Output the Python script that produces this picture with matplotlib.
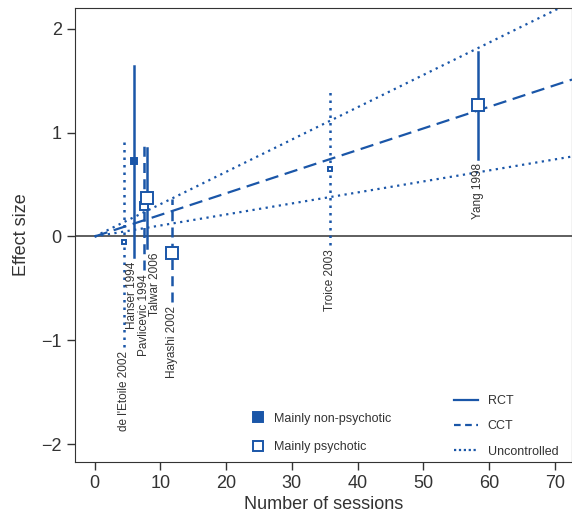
import matplotlib.pyplot as plt
from matplotlib.lines import Line2D

blue = '#1a56a8'
grey = '#333333'
plt.rcParams['font.family'] = ['Liberation Sans Narrow', 'Liberation Sans', 'DejaVu Sans']

# Study data
studies = ['de l\'Etoile 2002', 'Hanser 1994', 'Pavlicevic 1994', 'Talwar 2006',
           'Hayashi 2002', 'Troice 2003', 'Yang 1998']
sessions = [4.5, 6.0, 7.5, 8.0, 11.8, 35.8, 58.3]
effect = [-0.05, 0.73, 0.29, 0.37, -0.16, 0.65, 1.27]
ci_low = [-1.06, -0.20, -0.32, -0.11, -0.63, -0.08, 0.75]
ci_high = [0.96, 1.64, 0.93, 0.85, 0.36, 1.39, 1.78]
design = ['Uncontrolled', 'RCT', 'CCT', 'RCT', 'CCT', 'Uncontrolled', 'RCT']
filled = [False, True, False, False, False, False, False]
marker_size = [3.5, 5, 5.5, 8.5, 9, 3.5, 8.5]
label_dx = [0, -0.3, 0, 1.25, 0, 0, 0]

# Meta-regression lines through the origin (slope per session)
reg_x = [0, 72.6]
slope_cct = 0.0208
slope_upper = 0.0311
slope_lower = 0.0106

styles = {'RCT': '-', 'CCT': (0, (4, 2.5)), 'Uncontrolled': (0, (1, 2))}

fig = plt.figure(figsize=(5.72, 5.25), dpi=100)
ax = fig.add_axes([0.131, 0.12, 0.869, 0.865])

ax.axhline(0, color=grey, lw=1.1, zorder=1)

ax.plot(reg_x, [slope_cct * x for x in reg_x], color=blue, lw=1.6, linestyle=(0, (6, 3)))
ax.plot(reg_x, [slope_upper * x for x in reg_x], color=blue, lw=1.6, linestyle=(0, (1, 2)))
ax.plot(reg_x, [slope_lower * x for x in reg_x], color=blue, lw=1.6, linestyle=(0, (1, 2)))

for i, name in enumerate(studies):
    x = sessions[i]
    ax.plot([x, x], [ci_low[i], ci_high[i]], color=blue, lw=1.8,
            linestyle=styles[design[i]], zorder=3)
    ax.plot(x, effect[i], marker='s', ms=marker_size[i], mew=1.4,
            mec=blue, mfc=blue if filled[i] else 'white', zorder=4)
    ax.text(x + label_dx[i], ci_low[i] - 0.04, name, rotation=90, ha='center',
            va='top', fontsize=8.5, color=grey)

ax.set_xlim(-3, 72.6)
ax.set_ylim(-2.17, 2.2)
ax.set_xticks(range(0, 80, 10))
ax.set_yticks([-2, -1, 0, 1, 2])
ax.set_yticklabels(['\u22122', '\u22121', '0', '1', '2'])
ax.tick_params(labelsize=13, colors=grey, length=6, width=1)
ax.set_xlabel('Number of sessions', fontsize=13, color=grey, labelpad=3)
ax.set_ylabel('Effect size', fontsize=13, color=grey, labelpad=8)
for s in ax.spines.values():
    s.set_color(grey)

h1 = [Line2D([], [], ls='none', marker='s', ms=7, mfc=blue, mec=blue, mew=1.4),
      Line2D([], [], ls='none', marker='s', ms=7, mfc='white', mec=blue, mew=1.4)]
leg1 = ax.legend(h1, ['Mainly non-psychotic', 'Mainly psychotic'], loc='lower left',
                 bbox_to_anchor=(0.32, -0.005), frameon=False, fontsize=9,
                 labelspacing=1.3, handletextpad=0.3, labelcolor=grey)
ax.add_artist(leg1)
h2 = [Line2D([], [], color=blue, lw=1.6, ls='-'),
      Line2D([], [], color=blue, lw=1.6, ls=(0, (3, 2))),
      Line2D([], [], color=blue, lw=1.6, ls=(0, (1, 1.2)))]
ax.legend(h2, ['RCT', 'CCT', 'Uncontrolled'], loc='lower left',
          bbox_to_anchor=(0.74, -0.015), frameon=False, fontsize=9,
          labelspacing=1.05, handlelength=1.9, handletextpad=0.8, labelcolor=grey)

fig.savefig('out.png', dpi=100)
